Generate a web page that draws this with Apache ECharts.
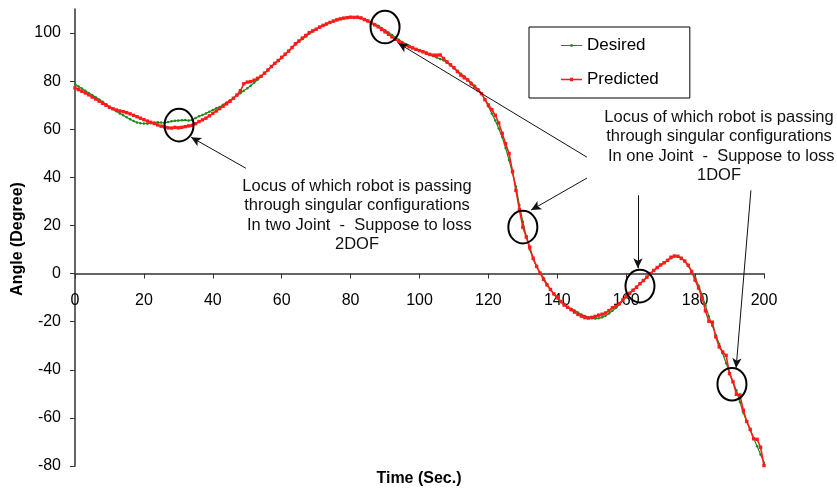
<!DOCTYPE html>
<html>
<head>
<meta charset="utf-8">
<script src="https://cdn.jsdelivr.net/npm/echarts@6/dist/echarts.min.js"></script>
<style>
html,body{margin:0;padding:0;background:#fff;}
#c{width:837px;height:491px;}
</style>
</head>
<body>
<div id="c"></div>
<script>
// Time samples (seconds)
var timeStart = 0, timeStep = 1;
// Desired angle (degree), one value per second 0..200
var desired = [
78.8,77.8,76.9,76.0,75.1,74.2,73.3,72.4,71.4,70.4,
69.4,68.4,67.5,66.6,65.8,65.0,64.2,63.4,62.8,62.5,
62.4,62.3,62.5,62.8,62.9,62.8,62.6,63.0,63.3,63.5,
63.6,63.7,63.8,63.6,63.9,64.7,65.4,65.9,66.6,67.3,
68.0,68.7,69.3,70.2,71.1,72.0,73.0,74.0,75.0,76.0,
77.0,78.1,79.3,80.6,82.0,83.4,84.8,86.0,87.2,88.4,
89.6,91.0,92.4,93.8,95.2,96.4,97.5,98.6,99.7,100.6,
101.4,102.2,102.9,103.6,104.3,104.8,105.3,105.8,106.2,106.5,
106.6,106.6,106.5,106.2,105.8,105.2,104.5,103.8,103.0,102.1,
101.2,100.2,99.2,98.2,97.2,96.3,95.5,94.7,94.0,93.4,
92.9,92.4,91.9,91.3,90.5,89.8,89.2,88.7,87.7,86.6,
85.4,84.3,83.1,82.0,80.7,79.4,78.1,76.6,74.9,72.5,
69.5,66.6,63.6,60.3,56.8,52.2,47.2,41.8,36.2,28.5,
21.5,15.5,10.0,6.0,2.8,0.3,-1.8,-4.3,-6.6,-8.6,
-10.4,-11.8,-12.9,-13.9,-14.6,-15.3,-16.2,-17.0,-17.6,-18.2,
-18.6,-18.7,-18.6,-18.2,-17.5,-16.6,-15.5,-14.3,-12.9,-11.3,
-9.7,-8.3,-6.9,-5.5,-4.1,-2.8,-1.4,-0.1,1.2,2.4,
3.5,4.4,5.4,6.4,7.1,7.2,6.6,5.2,3.2,1.0,
-1.5,-5.0,-8.7,-13.2,-17.8,-21.7,-25.5,-29.3,-33.1,-37.3,
-41.4,-45.0,-48.6,-53.4,-57.9,-61.5,-65.0,-68.5,-71.8,-75.2,
-78.6
];
// Predicted angle (degree), one value per second 0..200
var predicted = [
77.2,76.5,75.8,75.1,74.3,73.4,72.6,71.7,70.8,70.0,
69.1,68.5,68.0,67.6,67.3,66.9,66.4,65.8,65.2,64.6,
64.0,63.4,62.9,62.4,61.8,61.3,61.0,60.6,60.5,60.8,
60.6,60.8,61.1,61.4,61.6,62.3,63.2,63.9,64.6,65.6,
66.6,67.6,68.6,69.6,70.6,71.6,72.9,74.2,76.0,78.9,
79.6,79.8,80.4,81.2,82.0,83.3,84.6,86.1,87.4,88.6,
89.9,91.2,92.5,94.0,95.6,96.7,97.9,99.0,100.2,100.9,
101.6,102.5,103.2,103.8,104.4,105.0,105.5,105.9,106.2,106.4,
106.6,106.5,106.6,106.3,105.6,105.0,104.2,103.4,102.6,101.5,
100.5,99.5,98.4,97.4,96.5,95.6,95.0,94.3,93.8,93.2,
92.7,92.2,91.6,91.1,90.8,90.8,90.9,89.4,88.0,86.8,
85.6,84.0,82.5,81.4,80.5,78.9,77.6,76.3,74.8,72.3,
70.1,68.2,65.8,62.6,58.3,54.0,49.9,42.5,34.6,26.5,
19.3,15.2,11.0,6.4,3.0,0.2,-2.4,-4.7,-6.6,-8.4,
-9.8,-11.6,-13.1,-14.0,-15.0,-16.0,-17.0,-17.7,-18.3,-18.5,
-18.2,-17.8,-17.3,-16.9,-16.4,-15.4,-14.2,-13.6,-12.5,-11.0,
-9.4,-8.2,-6.9,-5.7,-4.2,-2.9,-1.5,0.0,1.3,2.5,
3.6,4.5,5.5,6.8,7.3,7.2,6.3,5.2,3.5,0.9,
-2.7,-6.0,-9.8,-15.5,-19.8,-20.2,-26.3,-30.5,-32.6,-34.0,
-41.6,-45.0,-50.2,-50.5,-56.8,-61.5,-64.8,-68.7,-68.9,-72.2,
-79.8
];
var seriesNames = ['Desired', 'Predicted'];
var xTicks = [0, 20, 40, 60, 80, 100, 120, 140, 160, 180, 200];
var yTicks = [-80, -60, -40, -20, 0, 20, 40, 60, 80, 100];
var xTitle = 'Time (Sec.)';
var yTitle = 'Angle (Degree)';
// Annotation circles centred on data coordinates [time, angle]
var circleCenters = [[30.2, 61.7], [90.0, 102.5], [130.0, 19.3], [164.0, -5.2], [190.7, -46.0]];
// Annotation arrows: [from, to] in data coordinates
var arrows = [
  [[49.6, 43.8], [33.7, 56.7]],
  [[148.6, 48.4], [93.8, 95.8]],
  [[148.6, 39.7], [132.4, 26.4]],
  [[163.4, 32.6], [163.4, 2.2]],
  [[196.2, 34.6], [191.9, -39.3]]
];
var noteLeft = 'Locus of which robot is passing\nthrough singular configurations\n In two Joint  -  Suppose to loss\n2DOF';
var noteRight = 'Locus of which robot is passing\nthrough singular configurations\n In one Joint  -  Suppose to loss\n1DOF';

function pairs(arr) {
  var out = [];
  for (var i = 0; i < arr.length; i++) out.push([timeStart + i * timeStep, arr[i]]);
  return out;
}

var GREEN = '#1a8a1a', RED = '#ff1a1a';
// legend icon: thin line with a small marker (zero-area corners keep the 21x14 box)
var ICON_DOT = 'path://M0,0L0.01,0Z M0,14L0.01,14Z M0,6.4L21,6.4L21,7.6L0,7.6Z M9.3,5.8L11.7,5.8L11.7,8.2L9.3,8.2Z';
var ICON_SQ = 'path://M0,0L0.01,0Z M0,14L0.01,14Z M0,6.2L21,6.2L21,7.8L0,7.8Z M9,5.3L12,5.3L12,8.7L9,8.7Z';

var FONT = '"Liberation Sans", Arial, Helvetica, sans-serif';
var chart = echarts.init(document.getElementById('c'), null, {renderer: 'canvas'});
var option = {
  animation: false,
  backgroundColor: '#fff',
  grid: {left: 75, right: 73, top: 9, bottom: 25, containLabel: false, outerBoundsMode: 'none'},
  legend: {
    orient: 'vertical', left: 529, top: 27,
    padding: [10, 31, 10, 32], itemGap: 17, itemWidth: 21, itemHeight: 14,
    borderColor: '#000', borderWidth: 1, backgroundColor: '#fff',
    textStyle: {fontFamily: FONT, fontSize: 17, color: '#000'},
    data: [
      {name: seriesNames[0], icon: ICON_DOT, itemStyle: {color: GREEN}},
      {name: seriesNames[1], icon: ICON_SQ, itemStyle: {color: RED}}
    ]
  },
  xAxis: {
    type: 'value', min: 0, max: 200, interval: 20,
    axisLine: {onZero: false, lineStyle: {color: '#333', width: 1.5}},
    axisTick: {show: true, inside: false, length: 5, lineStyle: {color: '#333'}},
    axisLabel: {margin: 19, fontFamily: FONT, fontSize: 16, color: '#000', customValues: xTicks},
    splitLine: {show: false}
  },
  yAxis: {
    type: 'value', min: -80, max: 110, interval: 20,
    axisLine: {show: true, lineStyle: {color: '#333', width: 1.5}},
    axisTick: {show: true, inside: false, length: 5, lineStyle: {color: '#333'}, customValues: yTicks},
    axisLabel: {margin: 14, fontFamily: FONT, fontSize: 16, color: '#000', customValues: yTicks},
    splitLine: {show: false}
  },
  series: [
    {
      name: seriesNames[0], type: 'line', data: pairs(desired),
      symbol: 'circle', symbolSize: 2.5, showSymbol: true, showAllSymbol: true,
      itemStyle: {color: GREEN}, lineStyle: {color: GREEN, width: 1.2},
      emphasis: {disabled: true}, z: 2
    },
    {
      name: seriesNames[1], type: 'line', data: pairs(predicted),
      symbol: 'rect', symbolSize: 3.4, showSymbol: true, showAllSymbol: true,
      itemStyle: {color: RED}, lineStyle: {color: RED, width: 1.6},
      emphasis: {disabled: true}, z: 3,
      markLine: {
        silent: true, animation: false,
        symbol: ['none', 'arrow'], symbolSize: [7, 10],
        lineStyle: {color: '#111', width: 1, type: 'solid'},
        label: {show: false},
        emphasis: {disabled: true},
        data: arrows.map(function (a) { return [{coord: a[0]}, {coord: a[1]}]; })
      }
    }
  ]
};
chart.setOption(option);

// Move the x axis (line, ticks, labels) up to the y = 0 level using the library's own scale
var zeroPx = chart.convertToPixel({yAxisIndex: 0}, 0);
var bottomPx = chart.convertToPixel({yAxisIndex: 0}, -80);
chart.setOption({xAxis: {offset: -(bottomPx - zeroPx)}});

var graphics = [];
circleCenters.forEach(function (c) {
  var p = chart.convertToPixel({gridIndex: 0}, c);
  graphics.push({
    type: 'ellipse', z: 10,
    shape: {cx: p[0], cy: p[1], rx: 14.5, ry: 16.3},
    style: {fill: 'none', stroke: '#000', lineWidth: 2}
  });
});
graphics.push({
  type: 'text', z: 10, x: 357, y: 177,
  style: {text: noteLeft, font: '16.5px ' + FONT, fill: '#111', align: 'center', verticalAlign: 'top', lineHeight: 19.3}
});
graphics.push({
  type: 'text', z: 10, x: 719, y: 108,
  style: {text: noteRight, font: '16.5px ' + FONT, fill: '#111', align: 'center', verticalAlign: 'top', lineHeight: 19.2}
});
graphics.push({
  type: 'text', z: 10, x: 419, y: 479,
  style: {text: xTitle, font: 'bold 16px ' + FONT, fill: '#000', align: 'center', verticalAlign: 'middle'}
});
graphics.push({
  type: 'text', z: 10, x: 18, y: 239, rotation: Math.PI / 2,
  style: {text: yTitle, font: 'bold 16px ' + FONT, fill: '#000', align: 'center', verticalAlign: 'middle'}
});
chart.setOption({graphic: graphics});
</script>
</body>
</html>
